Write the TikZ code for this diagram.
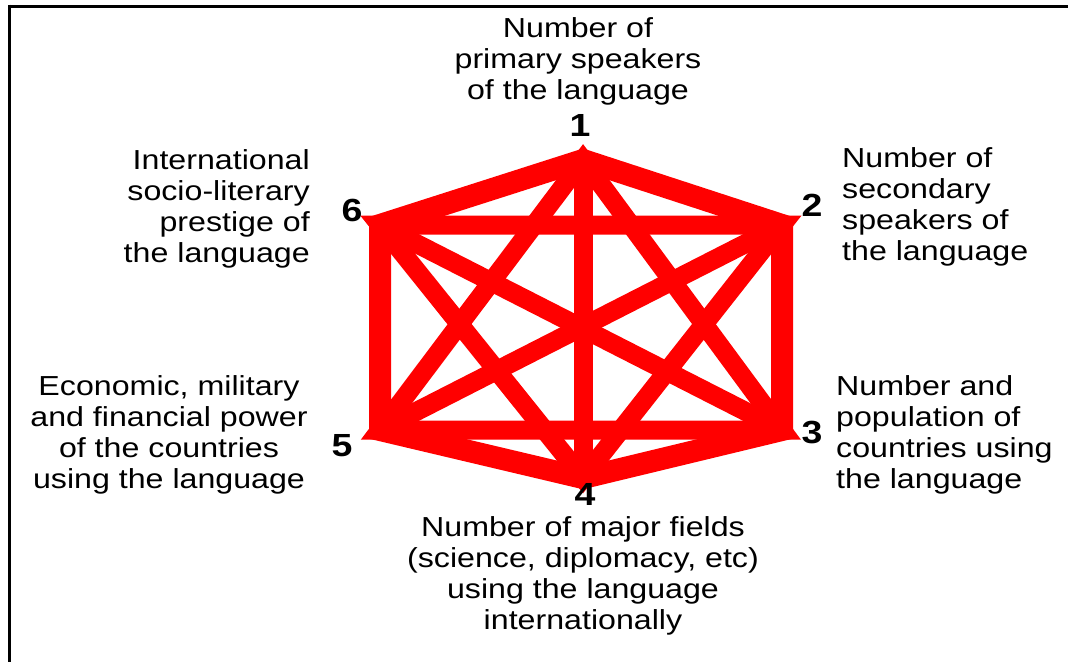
\documentclass[tikz,border=0pt]{standalone}
\usepackage{fontspec}
\setmainfont{Liberation Sans}[FakeStretch=1.17]
\begin{document}
\begin{tikzpicture}[x=1pt,y=-1pt,
  lbl/.style={font=\fontsize{27.5}{31}\selectfont, inner sep=0pt},
  num/.style={font=\fontsize{32}{32}\selectfont\bfseries, inner sep=0pt},
  side/.style={red, line width=22pt, line join=miter},
  diag/.style={red, line width=19pt},
  frame/.style={black, line width=3pt}]
\useasboundingbox (0,0) rectangle (1068,662);
% frame
\coordinate (ftl) at (8,6);
\coordinate (ftr) at (1068,6);
\coordinate (fl) at (9.5,4.5);
\coordinate (fb) at (9.5,662);
\draw[frame] (ftl) -- (ftr);
\draw[frame] (fl) -- (fb);
% vertices
\coordinate (v1) at (583,160);
\coordinate (v2) at (782,225);
\coordinate (v3) at (782,430);
\coordinate (v4) at (583,478);
\coordinate (v5) at (380,430);
\coordinate (v6) at (380,225);
% diagonals
\draw[diag] (v1) -- (v4);
\draw[diag] (v2) -- (v5);
\draw[diag] (v3) -- (v6);
\draw[diag] (v1) -- (v3) -- (v5) -- cycle;
\draw[diag] (v2) -- (v4) -- (v6) -- cycle;
% hexagon
\draw[side] (v1) -- (v2) -- (v3) -- (v4) -- (v5) -- (v6) -- cycle;
% numbers
\node[num] (n1) at (580,125) {1};
\node[num] (n2) at (812,205) {2};
\node[num] (n3) at (812,432) {3};
\node[num] (n4) at (585,494) {4};
\node[num] (n5) at (342,446) {5};
\node[num] (n6) at (352,210) {6};
% labels
\node[lbl, align=center] (t1) at (578,61) {Number of\\primary speakers\\of the language};
\node[lbl, align=left, anchor=west] (t2) at (842,207) {Number of\\secondary\\speakers of\\the language};
\node[lbl, align=left, anchor=west] (t3) at (836,435) {Number and\\population of\\countries using\\the language};
\node[lbl, align=center] (t4) at (583,576) {Number of major fields\\(science, diplomacy, etc)\\using the language\\internationally};
\node[lbl, align=center] (t5) at (169,435) {Economic, military\\and financial power\\of the countries\\using the language};
\node[lbl, align=right, anchor=east] (t6) at (310,209) {International\\socio-literary\\prestige of\\the language};
\end{tikzpicture}
\end{document}
